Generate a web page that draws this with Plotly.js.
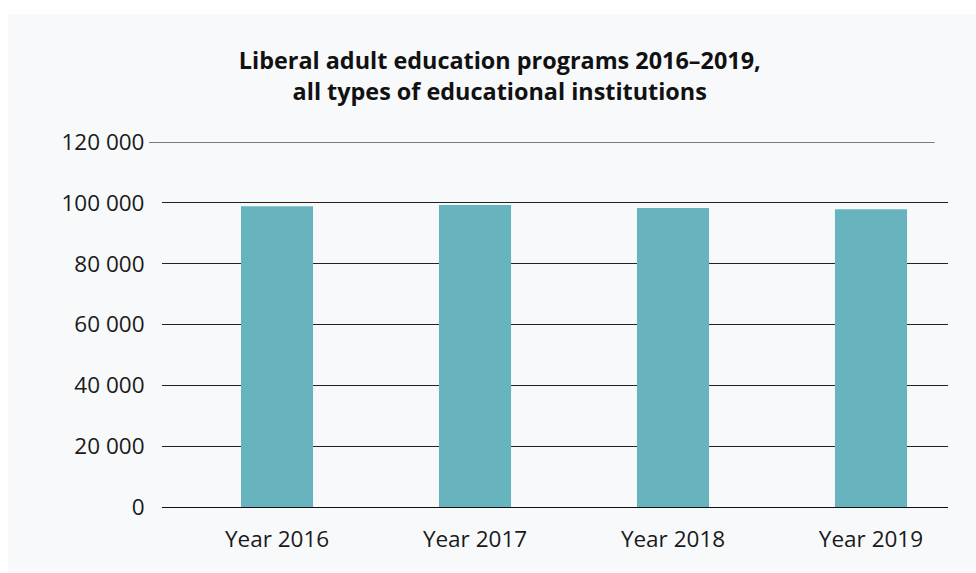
<!DOCTYPE html>
<html>
<head>
<meta charset="utf-8">
<script src="https://cdn.plot.ly/plotly-3.0.1.min.js"></script>
<style>
html, body { margin: 0; padding: 0; background: #ffffff; width: 976px; height: 573px; overflow: hidden; }
#card { position: absolute; left: 8px; top: 14px; width: 968px; height: 559px; background: #f8f9fb; }
#chart { width: 968px; height: 559px; }
</style>
</head>
<body>
<div id="card"><div id="chart"></div></div>
<script>
const categories = ["Year 2016", "Year 2017", "Year 2018", "Year 2019"];
const programs = [98900, 99300, 98300, 97900];
const yTicks = [0, 20000, 40000, 60000, 80000, 100000, 120000];

const trace = {
  type: "bar",
  x: categories,
  y: programs,
  width: 0.364,
  marker: { color: "#67b4bf" },
  hoverinfo: "skip"
};

const layout = {
  width: 968,
  height: 559,
  paper_bgcolor: "#f8f9fb",
  plot_bgcolor: "#f8f9fb",
  separators: ". ",
  margin: { l: 154, r: 28, t: 128, b: 66 },
  font: { family: "Open Sans, Noto Sans, sans-serif", color: "#1a1a1a", size: 22.5 },
  title: {
    text: "<b>Liberal adult education programs 2016–2019,<br>all types of educational institutions</b>",
    font: { family: "Open Sans, Noto Sans, sans-serif", size: 23.4, color: "#111111" },
    x: 0.508, xanchor: "center",
    y: 0.901, yanchor: "top", yref: "container"
  },
  xaxis: {
    type: "category",
    range: [-0.581, 3.389],
    showgrid: false,
    showline: false,
    zeroline: false,
    ticks: "outside",
    ticklen: 12,
    tickcolor: "rgba(0,0,0,0)",
    tickfont: { size: 22.5, color: "#1a1a1a" },
    fixedrange: true
  },
  yaxis: {
    range: [0, 120000],
    tickvals: yTicks,
    tickformat: ",d",
    showgrid: true,
    gridcolor: "#222222",
    gridwidth: 1,
    zeroline: true,
    zerolinecolor: "#111111",
    zerolinewidth: 1,
    showline: false,
    ticks: "outside",
    ticklen: 12,
    tickcolor: "rgba(0,0,0,0)",
    tickfont: { size: 22.5, color: "#1a1a1a" },
    fixedrange: true
  },
  shapes: [{
    type: "line",
    xref: "paper", yref: "y",
    x0: -0.0165, x1: 0.983,
    y0: 120000, y1: 120000,
    line: { color: "#000000", width: 1.2 },
    layer: "below"
  }],
  showlegend: false
};

Plotly.newPlot("chart", [trace], layout, { displayModeBar: false, staticPlot: true });
</script>
</body>
</html>
